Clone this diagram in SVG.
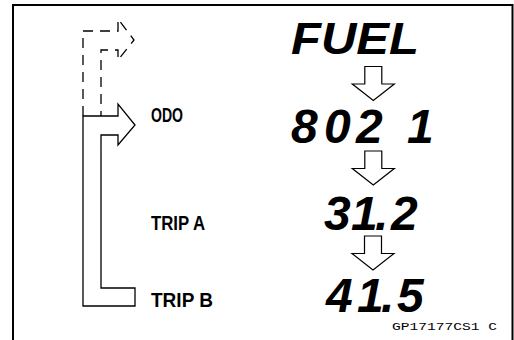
<svg xmlns="http://www.w3.org/2000/svg" width="514" height="340" viewBox="0 0 514 340">
<style>
.ln{fill:none;stroke:#000;stroke-width:1.3;stroke-linejoin:miter}
.dash{stroke-dasharray:10 7}
.seg{font-family:"Liberation Sans",Arial,sans-serif;font-weight:bold;font-style:italic;fill:#000}
.lbl{font-family:"Liberation Sans",Arial,sans-serif;font-weight:bold;fill:#000}
.code{font-family:"Liberation Mono","DejaVu Sans Mono",monospace;fill:#000}
.dn{fill:#fff;stroke:#000;stroke-width:1.2}
</style>
<defs>
<path id="down" d="M-8.5,0 H8.5 V17.5 H21 L0,34 L-21,17.5 H-8.5 Z"/>
</defs>
<rect width="514" height="340" fill="#fff"/>
<g id="frame">
<path d="M13,340 V5 H512.5 V340" fill="none" stroke="#000" stroke-width="2"/>
</g>
<g id="connectors">
<path class="ln" d="M83,116 H118 V104 L135,125 L118,145 V135 H101 V288 H135 V306 H83 Z"/>
<path class="ln dash" d="M83,116 V31 H118 V19 L134,40 L118,60 V50 H101 V116"/>
<use href="#down" x="373.3" y="66.5" class="dn"/>
<use href="#down" x="373.3" y="151" class="dn"/>
<use href="#down" x="373" y="236" class="dn"/>
</g>
<g id="fuel"><text class="seg" x="291" y="54" font-size="45" textLength="128" lengthAdjust="spacingAndGlyphs">FUEL</text></g>
<g id="odo-value"><text class="seg" font-size="48" x="291 324 356 389 407" y="143">802 1</text></g>
<g id="tripa-value"><text class="seg" font-size="48" x="324 344 351 375 391" y="230">3 1.2</text></g>
<g id="tripb-value"><text class="seg" font-size="48" x="326 350 357 381 397" y="312">4 1.5</text></g>
<g id="odo"><text class="lbl" x="151" y="122" font-size="20" textLength="32" lengthAdjust="spacingAndGlyphs">ODO</text></g>
<g id="trip-a"><text class="lbl" x="151" y="230" font-size="20" textLength="54" lengthAdjust="spacingAndGlyphs">TRIP A</text></g>
<g id="trip-b"><text class="lbl" x="151" y="307" font-size="20" textLength="62" lengthAdjust="spacingAndGlyphs">TRIP  B</text></g>
<g id="code"><text class="code" x="392" y="330" font-size="11.5" textLength="105" lengthAdjust="spacingAndGlyphs">GP17177CS1  C</text></g>
</svg>
